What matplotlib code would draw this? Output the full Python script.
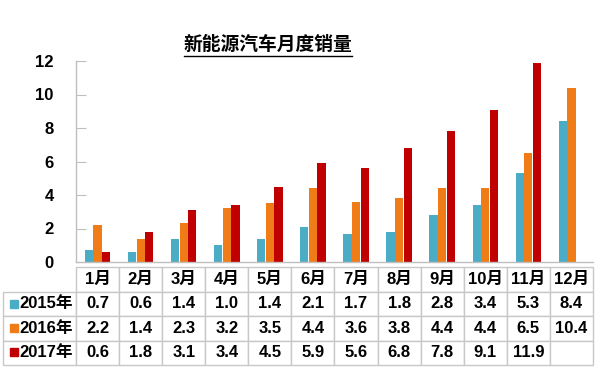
import matplotlib.pyplot as plt
import numpy as np
from matplotlib.patches import Rectangle
from matplotlib.lines import Line2D

plt.rcParams['font.family'] = ['Liberation Sans', 'Noto Sans CJK SC']
plt.rcParams['font.weight'] = 'bold'

months = ['1月', '2月', '3月', '4月', '5月', '6月', '7月', '8月', '9月', '10月', '11月', '12月']
years = ['2015年', '2016年', '2017年']
s2015 = [0.7, 0.6, 1.4, 1.0, 1.4, 2.1, 1.7, 1.8, 2.8, 3.4, 5.3, 8.4]
s2016 = [2.2, 1.4, 2.3, 3.2, 3.5, 4.4, 3.6, 3.8, 4.4, 4.4, 6.5, 10.4]
s2017 = [0.6, 1.8, 3.1, 3.4, 4.5, 5.9, 5.6, 6.8, 7.8, 9.1, 11.9, None]
colors = ['#4BACC6', '#F07C18', '#C00000']
yticks = [0, 2, 4, 6, 8, 10, 12]

W, H = 600, 369
fig = plt.figure(figsize=(6, 3.69), dpi=100)
ax = fig.add_axes([76 / W, 1 - 262 / H, (593 - 76) / W, (262 - 61) / H])

x = np.arange(len(months))
series = [s2015, s2016, s2017]
offs = [-0.2, 0.0, 0.2]
for vals, c, o in zip(series, colors, offs):
    xv = [xi + o for xi, v in zip(x, vals) if v is not None]
    yv = [v for v in vals if v is not None]
    ax.bar(xv, yv, width=0.19, color=c, edgecolor='none')

ax.set_xlim(-0.5, 11.5)
ax.set_ylim(0, 12)
ax.set_yticks(yticks)
ax.set_yticklabels([str(t) for t in yticks], fontsize=12, fontweight='bold')
ax.set_xticks([])
ax.tick_params(axis='y', direction='in', length=7, color='#BFBFBF', pad=16)
for s in ['top', 'right']:
    ax.spines[s].set_visible(False)
for s in ['left', 'bottom']:
    ax.spines[s].set_color('#BFBFBF')
    ax.spines[s].set_linewidth(1)

# data table
cells = [[''] + months]
for yr, vals in zip(years, series):
    cells.append([yr] + ['' if v is None else f'{v:.1f}' for v in vals])

lab_w = 73 / 517
col_w = 1 / 12
tb = ax.table(cellText=cells, colWidths=[lab_w] + [col_w] * 12, cellLoc='center',
              bbox=[-lab_w, -(365 - 262) / 201, 1 + lab_w, (365 - 267) / 201])
tb.auto_set_font_size(False)
for (r, c), cell in tb.get_celld().items():
    cell.set_edgecolor('#C8C8C8')
    cell.set_linewidth(1)
    cell.get_text().set_fontsize(12)
    cell.get_text().set_fontweight('bold')
    if r == 0 and c == 0:
        cell.visible_edges = ''
    if c == 0 and r > 0:
        cell.get_text().set_ha('right')
        cell.PAD = 0.04

# colored squares in row labels
row_y = [304, 328, 352]
for yc, c in zip(row_y, colors):
    fig.patches.append(Rectangle((10 / W, 1 - (yc + 4) / H), 8 / W, 8 / H,
                                 transform=fig.transFigure, color=c))

# underlined title
t = fig.text(268 / W, 1 - 45 / H, '新能源汽车月度销量', ha='center', va='center',
             fontsize=13.5, fontweight='bold')
fig.canvas.draw()
bb = t.get_window_extent().transformed(fig.transFigure.inverted())
fig.add_artist(Line2D([bb.x0, bb.x1], [bb.y0 - 0.004, bb.y0 - 0.004],
                      transform=fig.transFigure, color='black', lw=1))

fig.savefig('out.png', dpi=100)
